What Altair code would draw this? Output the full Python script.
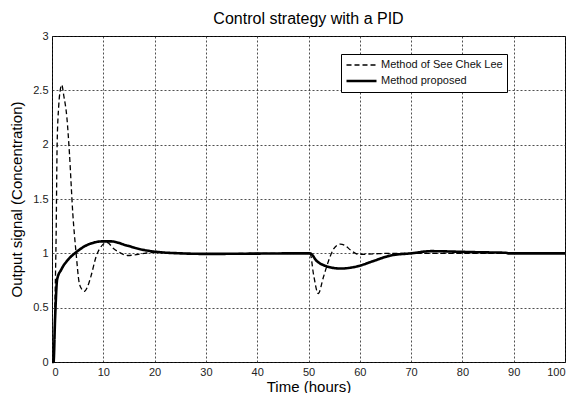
import altair as alt
import pandas as pd

# Method of See Chek Lee (dashed)
t_lee = [0, 0.3, 0.6, 0.8, 1.0, 1.3, 1.6, 1.9, 2.3, 2.9, 3.4, 4.05, 4.7, 5.3, 5.8, 6.3, 6.9,
         7.6, 8.6, 9.9, 10.7, 12.1, 13.5, 14.7, 16, 18, 20, 25, 30, 40, 50, 50.3, 51.0, 51.9,
         52.9, 53.9, 54.9, 56.2, 57.2, 58.2, 59.8, 62.7, 66, 70, 100]
y_lee = [0, 0, 0.6, 1.15, 2.0, 2.35, 2.5, 2.55, 2.45, 2.25, 1.92, 1.37, 1.0, 0.73, 0.67, 0.65,
         0.69, 0.79, 0.97, 1.08, 1.1, 1.04, 1.0, 0.98, 0.985, 1.0, 1.01, 1.0, 0.995, 1.0, 1.0,
         1.0, 0.8, 0.63, 0.78, 0.93, 1.04, 1.085, 1.07, 1.03, 0.99, 0.995, 1.0, 1.0, 1.0]

# Method proposed (solid)
t_prop = [0, 0.3, 0.6, 1.0, 1.8, 3.1, 4.7, 7.0, 9.9, 11.5, 14.7, 18, 21.2, 25, 30, 50, 50.3,
          51.6, 53.6, 56.2, 59.5, 62.7, 66, 70, 73.9, 79, 83, 88.5, 89, 100]
y_prop = [0, 0, 0.4, 0.76, 0.85, 0.94, 1.01, 1.08, 1.11, 1.11, 1.07, 1.03, 1.01, 1.0, 0.995,
          1.0, 1.0, 0.93, 0.88, 0.86, 0.88, 0.93, 0.98, 1.0, 1.02, 1.015, 1.01, 1.005, 1.0, 1.0]

series_names = ["Method of See Chek Lee", "Method proposed"]
x_ticks = [0, 10, 20, 30, 40, 50, 60, 70, 80, 90, 100]
y_ticks = [0, 0.5, 1, 1.5, 2, 2.5, 3]

df = pd.concat([
    pd.DataFrame({"t": t_lee, "y": y_lee, "method": series_names[0], "order": range(len(t_lee))}),
    pd.DataFrame({"t": t_prop, "y": y_prop, "method": series_names[1], "order": range(len(t_prop))}),
])

FONT = "Liberation Sans"

chart = alt.Chart(df).mark_line(color="black", interpolate="monotone").encode(
    x=alt.X("t:Q", scale=alt.Scale(domain=[0, 100], nice=False),
            axis=alt.Axis(title="Time (hours)", values=x_ticks)),
    y=alt.Y("y:Q", scale=alt.Scale(domain=[0, 3], nice=False),
            axis=alt.Axis(title="Output signal (Concentration)", values=y_ticks,
                          labelExpr="'' + datum.value")),
    order="order:Q",
    strokeDash=alt.StrokeDash("method:N", title=None,
                              scale=alt.Scale(domain=series_names, range=[[5, 3], [1, 0]])),
    strokeWidth=alt.StrokeWidth("method:N", title=None,
                                scale=alt.Scale(domain=series_names, range=[1.3, 2.6])),
).properties(
    width=513, height=326,
    title=alt.TitleParams("Control strategy with a PID", font=FONT, fontSize=16,
                          fontWeight="normal", color="black", anchor="middle", offset=3),
    autosize=alt.AutoSizeParams(type="none"),
    padding={"left": 52, "top": 36, "right": 7, "bottom": 31},
).configure_view(
    stroke="black", strokeWidth=1
).configure_axis(
    domain=False, ticks=False,
    grid=True, gridColor="#222", gridDash=[2, 2], gridWidth=0.8, gridOpacity=1,
    labelFont=FONT, labelFontSize=11, labelColor="#222", labelPadding=4,
    titleFont=FONT, titleFontSize=15, titleFontWeight="normal", titleColor="black",
).configure_axisX(titlePadding=2).configure_axisY(titlePadding=8).configure_legend(
    orient="none", legendX=289, legendY=18,
    fillColor="white", strokeColor="black", padding=4,
    labelFont=FONT, labelFontSize=11, labelColor="#111", labelOffset=3,
    symbolType="stroke", symbolSize=900, symbolStrokeColor="black",
    clipHeight=14, rowPadding=2, cornerRadius=0,
)

chart.save("out.html", embed_options={"renderer": "svg", "actions": False})
